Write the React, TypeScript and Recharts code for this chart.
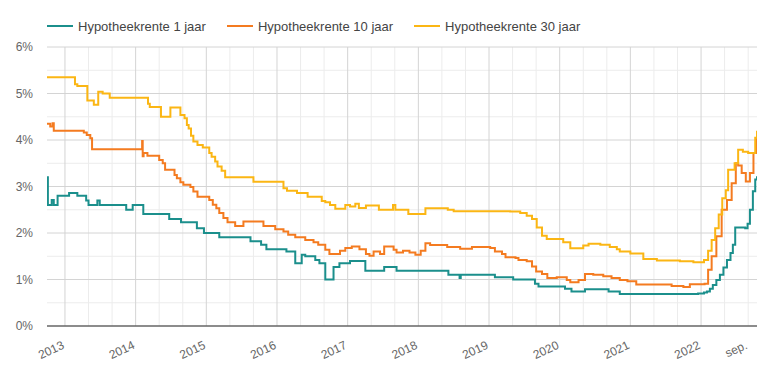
import { LineChart, Line, XAxis, YAxis, ReferenceLine } from "recharts";

// x = maanden sinds januari 2013, y = rente in %
const rente1Jaar: [number, number][] = [
  [-3.05, 3.2], [-2.9, 2.6], [-2.25, 2.71], [-1.9, 2.6], [-1.25, 2.8], [0.7, 2.86],
  [2.1, 2.8], [3.6, 2.7], [4.0, 2.6], [5.5, 2.7], [5.9, 2.6], [10.4, 2.5], [11.5, 2.6],
  [13.3, 2.41], [17.7, 2.3], [19.7, 2.23], [22.4, 2.1], [23.6, 2.0], [26.2, 1.91],
  [31.5, 1.82], [33.3, 1.75], [34.2, 1.65], [37.6, 1.6], [39.1, 1.35], [40.2, 1.53],
  [40.8, 1.5], [42.5, 1.42], [43.2, 1.35], [44.2, 1.0], [45.6, 1.27], [46.6, 1.35],
  [48.4, 1.4], [51.0, 1.19], [54.2, 1.27], [56.3, 1.19], [65.1, 1.1], [67.0, 1.03],
  [67.2, 1.1], [73.0, 1.05], [76.1, 1.0], [79.8, 0.91], [80.4, 0.85], [84.9, 0.8],
  [86.0, 0.74], [88.3, 0.79], [92.3, 0.74], [94.2, 0.69], [107.5, 0.7], [108.5, 0.72],
  [109.0, 0.74], [109.5, 0.8], [110.0, 0.88], [110.6, 0.99], [111.2, 1.1], [111.8, 1.26],
  [112.4, 1.42], [113.0, 1.57], [113.4, 1.75], [113.8, 2.12], [115.5, 2.1], [115.9, 2.2],
  [116.3, 2.5], [116.8, 2.9], [117.2, 3.15], [117.5, 3.22],
];

const rente10Jaar: [number, number][] = [
  [-3.05, 4.35], [-2.5, 4.29], [-2.1, 4.36], [-1.9, 4.2], [3.2, 4.16], [3.7, 4.11],
  [4.3, 4.04], [4.6, 3.8], [13.1, 3.98], [13.2, 3.65], [13.35, 3.72], [14.0, 3.66],
  [16.0, 3.57], [16.6, 3.5], [17.0, 3.36], [18.6, 3.25], [19.0, 3.18], [19.6, 3.09],
  [20.1, 3.04], [21.3, 2.99], [21.8, 2.89], [22.5, 2.78], [24.5, 2.71], [25.1, 2.61],
  [25.7, 2.53], [26.2, 2.43], [26.9, 2.32], [27.6, 2.23], [28.9, 2.15], [30.3, 2.25],
  [33.7, 2.15], [35.7, 2.08], [37.1, 2.03], [37.9, 1.96], [39.1, 1.91], [40.8, 1.85],
  [42.2, 1.8], [43.0, 1.75], [44.2, 1.64], [44.9, 1.55], [46.7, 1.62], [47.6, 1.68],
  [48.7, 1.71], [50.0, 1.65], [51.1, 1.55], [51.7, 1.51], [52.4, 1.6], [53.5, 1.55],
  [54.2, 1.71], [55.8, 1.64], [56.3, 1.58], [57.4, 1.62], [58.5, 1.58], [59.5, 1.53],
  [60.4, 1.62], [61.2, 1.78], [62.0, 1.74], [64.9, 1.7], [67.1, 1.66], [69.1, 1.7],
  [72.2, 1.68], [73.0, 1.6], [74.2, 1.55], [74.8, 1.48], [76.5, 1.46], [77.0, 1.42],
  [78.4, 1.39], [79.3, 1.28], [80.0, 1.17], [81.0, 1.12], [81.9, 1.03], [83.5, 1.05],
  [85.2, 0.99], [85.8, 0.94], [87.2, 0.99], [88.3, 1.12], [89.7, 1.1], [91.4, 1.07],
  [92.8, 1.03], [94.2, 0.99], [95.5, 0.96], [97.0, 0.89], [103.0, 0.86], [105.0, 0.84],
  [106.1, 0.9], [108.6, 0.91], [109.2, 1.21], [109.8, 1.5], [110.6, 1.93], [111.5, 2.5],
  [112.4, 2.71], [113.2, 3.07], [113.9, 3.5], [114.3, 3.45], [114.9, 3.29], [115.6, 3.11],
  [116.3, 3.29], [116.9, 3.72], [117.5, 4.15],
];

const rente30Jaar: [number, number][] = [
  [-3.05, 5.35], [1.7, 5.2], [2.1, 5.16], [3.8, 4.85], [4.9, 4.76], [5.65, 5.04],
  [6.4, 5.0], [7.6, 4.91], [14.1, 4.78], [14.4, 4.71], [16.3, 4.5], [17.9, 4.7],
  [19.6, 4.54], [20.3, 4.47], [20.7, 4.32], [21.0, 4.25], [21.4, 4.09], [21.8, 3.97],
  [22.5, 3.89], [23.4, 3.84], [24.5, 3.72], [24.9, 3.64], [25.5, 3.54], [25.9, 3.43],
  [26.6, 3.34], [27.2, 3.2], [32.0, 3.1], [37.1, 2.96], [37.7, 2.91], [39.4, 2.86],
  [41.2, 2.78], [43.6, 2.69], [44.2, 2.66], [45.0, 2.6], [45.9, 2.52], [47.6, 2.6],
  [48.4, 2.57], [49.3, 2.63], [49.9, 2.54], [51.1, 2.59], [53.3, 2.5], [55.7, 2.6],
  [56.1, 2.5], [58.3, 2.41], [61.2, 2.53], [65.0, 2.5], [66.0, 2.47], [75.6, 2.46],
  [77.3, 2.43], [78.4, 2.37], [79.3, 2.3], [80.1, 2.12], [81.0, 1.94], [81.8, 1.87],
  [84.6, 1.8], [85.8, 1.67], [88.0, 1.73], [88.9, 1.77], [90.9, 1.75], [92.5, 1.7],
  [93.7, 1.65], [94.2, 1.6], [96.0, 1.56], [98.2, 1.44], [100.5, 1.41], [104.4, 1.39],
  [106.7, 1.37], [108.5, 1.42], [109.2, 1.62], [109.8, 1.85], [110.4, 2.1], [111.0, 2.4],
  [111.6, 2.75], [112.2, 2.92], [112.6, 3.36], [113.7, 3.5], [114.3, 3.79], [115.1, 3.75],
  [116.0, 3.72], [117.2, 4.05], [117.5, 4.2],
];

const seriesNames = ["Hypotheekrente 1 jaar", "Hypotheekrente 10 jaar", "Hypotheekrente 30 jaar"];
const seriesColors = ["#1b8f8c", "#f47b20", "#fbb614"];

const xTicks = [0, 12, 24, 36, 48, 60, 72, 84, 96, 108, 116];
const xTickLabels = ["2013", "2014", "2015", "2016", "2017", "2018", "2019", "2020", "2021", "2022", "sep."];
const yTicks = [0, 1, 2, 3, 4, 5, 6];

const minorMonths = Array.from({ length: 30 }, (_, i) => i * 4).filter((m) => m % 12 !== 0 && m <= 116);
const yearMonths = [0, 12, 24, 36, 48, 60, 72, 84, 96, 108];
const minorRates = [0.5, 1.5, 2.5, 3.5, 4.5, 5.5];

const font = '"Liberation Sans", Arial, sans-serif';

const toPoints = (arr: [number, number][]) => arr.map(([m, v]) => ({ m, v }));

function XTick({ x, y, payload }: any) {
  const idx = xTicks.indexOf(payload.value);
  const ty = y + 22;
  return (
    <text
      x={x}
      y={ty}
      transform={`rotate(-25 ${x} ${ty})`}
      textAnchor="end"
      fontSize={12}
      fill="#666"
      fontFamily={font}
    >
      {xTickLabels[idx]}
    </text>
  );
}

function ChartLegend() {
  return (
    <div
      style={{
        position: "absolute",
        top: 17,
        left: 47,
        display: "flex",
        gap: 21,
        fontFamily: font,
        fontSize: 13,
        color: "#444",
      }}
    >
      {seriesNames.map((name, i) => (
        <div key={name} style={{ display: "flex", alignItems: "center", gap: 5, height: 18 }}>
          <div style={{ width: 26, height: 2, background: seriesColors[i] }} />
          <span>{name}</span>
        </div>
      ))}
    </div>
  );
}

export default function App() {
  const series = [rente1Jaar, rente10Jaar, rente30Jaar];
  return (
    <div style={{ position: "absolute", left: 0, top: 0, width: 757, height: 374, background: "#fff" }}>
      <ChartLegend />
      <LineChart width={757} height={374} margin={{ top: 47, right: 0, left: 0, bottom: 0 }}>
        <XAxis
          type="number"
          dataKey="m"
          domain={[-3.05, 117.5]}
          allowDataOverflow
          ticks={xTicks}
          tick={<XTick />}
          tickLine={false}
          tickSize={0}
          tickMargin={0}
          height={48}
          axisLine={{ stroke: "#666", strokeWidth: 1.5 }}
          interval={0}
        />
        <YAxis
          type="number"
          domain={[0, 6]}
          ticks={yTicks}
          width={47}
          axisLine={false}
          tickLine={false}
          tickMargin={8}
          tickFormatter={(v: number) => `${v}%`}
          tick={{ fontSize: 12, fill: "#666", fontFamily: font }}
        />
        {minorRates.map((r) => (
          <ReferenceLine key={`hr${r}`} y={r} stroke="#ececec" strokeWidth={1} />
        ))}
        {minorMonths.map((m) => (
          <ReferenceLine key={`vm${m}`} x={m} stroke="#ececec" strokeWidth={1} />
        ))}
        {yTicks.filter((r) => r > 0).map((r) => (
          <ReferenceLine key={`hm${r}`} y={r} stroke="#d4d4d4" strokeWidth={1} />
        ))}
        {yearMonths.map((m) => (
          <ReferenceLine key={`vy${m}`} x={m} stroke="#d4d4d4" strokeWidth={1} />
        ))}
        {series.map((s, i) => (
          <Line
            key={seriesNames[i]}
            data={toPoints(s)}
            dataKey="v"
            name={seriesNames[i]}
            type="stepAfter"
            stroke={seriesColors[i]}
            strokeWidth={2}
            dot={false}
            isAnimationActive={false}
          />
        ))}
      </LineChart>
    </div>
  );
}
